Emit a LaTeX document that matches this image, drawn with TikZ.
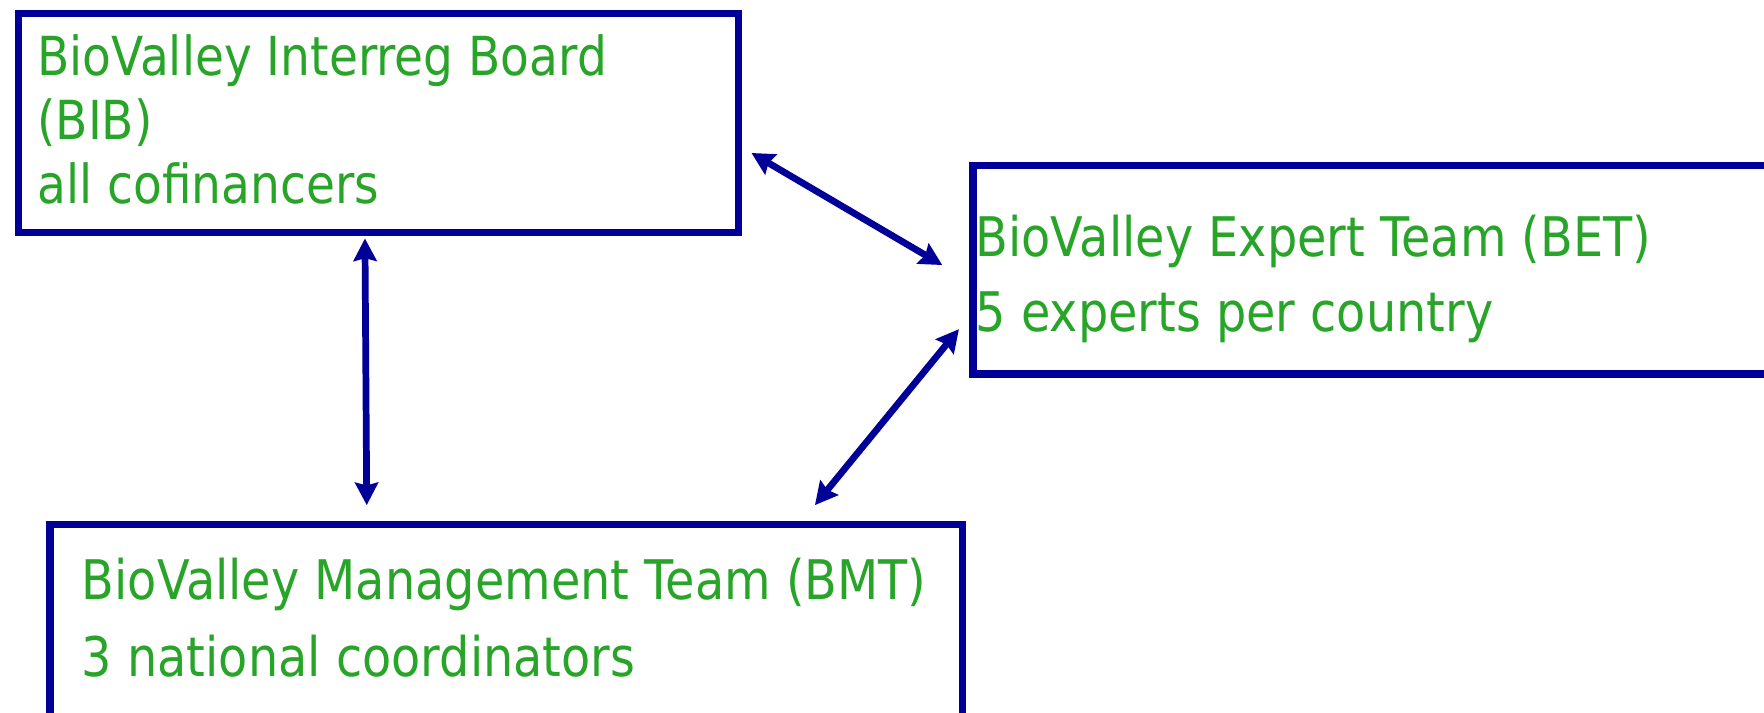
\documentclass[tikz,border=0pt]{standalone}
\usepackage{fontspec}
\setmainfont{DejaVu Sans}[FakeStretch=0.875]
\usetikzlibrary{arrows.meta}
\definecolor{boxblue}{RGB}{0,0,153}
\definecolor{labelgreen}{RGB}{40,165,40}
\begin{document}
\begin{tikzpicture}[x=0.01cm,y=-0.01cm,
  panel/.style={draw=boxblue,line width=1.85pt,anchor=north west,inner sep=0pt},
  label/.style={anchor=base west,inner sep=0pt,text=labelgreen,
    font=\fontsize{13.6pt}{16pt}\selectfont},
  biglabel/.style={label,font=\fontsize{13.8pt}{16pt}\selectfont},
  tip/.tip={Stealth[length=0.2cm,width=0.205cm,inset=0.025cm]},
  link/.style={draw=boxblue,line width=1.7pt,tip-tip}]
  \useasboundingbox (0,0) rectangle (1568,633);
  \clip (0,0) rectangle (1568,633);

  % the three bodies
  \node[panel,minimum width=6.40cm,minimum height=1.944cm] (bib) at (13,8.6) {};
  \node[panel,minimum width=7.60cm,minimum height=1.852cm] (bet) at (861.5,143.8) {};
  \node[panel,minimum width=8.108cm,minimum height=1.71cm] (bmt) at (41.2,463) {};

  % board
  \node[label] (bib1) at (32.5,67.5) {BioValley Interreg Board};
  \node[label] (bib2) at (32.5,124) {(BIB)};
  \node[label] (bib3) at (32.5,181) {all cofinancers};

  % expert team
  \node[biglabel] (bet1) at (866.5,227.6) {BioValley Expert Team (BET)};
  \node[biglabel] (bet2) at (866.5,294.8) {5 experts per country};

  % management team
  \node[biglabel] (bmt1) at (72,532.7) {BioValley Management Team (BMT)};
  \node[biglabel] (bmt2) at (72,601.5) {3 national coordinators};

  % arrow end points
  \coordinate (bibR) at (668,136);
  \coordinate (betL) at (837.6,235.6);
  \coordinate (bibB) at (324.4,212);
  \coordinate (bmtT) at (326,449);
  \coordinate (betB) at (852.4,292.6);
  \coordinate (bmtR) at (724.4,449);

  \draw[link] (bibR) -- (betL);
  \draw[link] (bibB) -- (bmtT);
  \draw[link] (betB) -- (bmtR);
\end{tikzpicture}
\end{document}
